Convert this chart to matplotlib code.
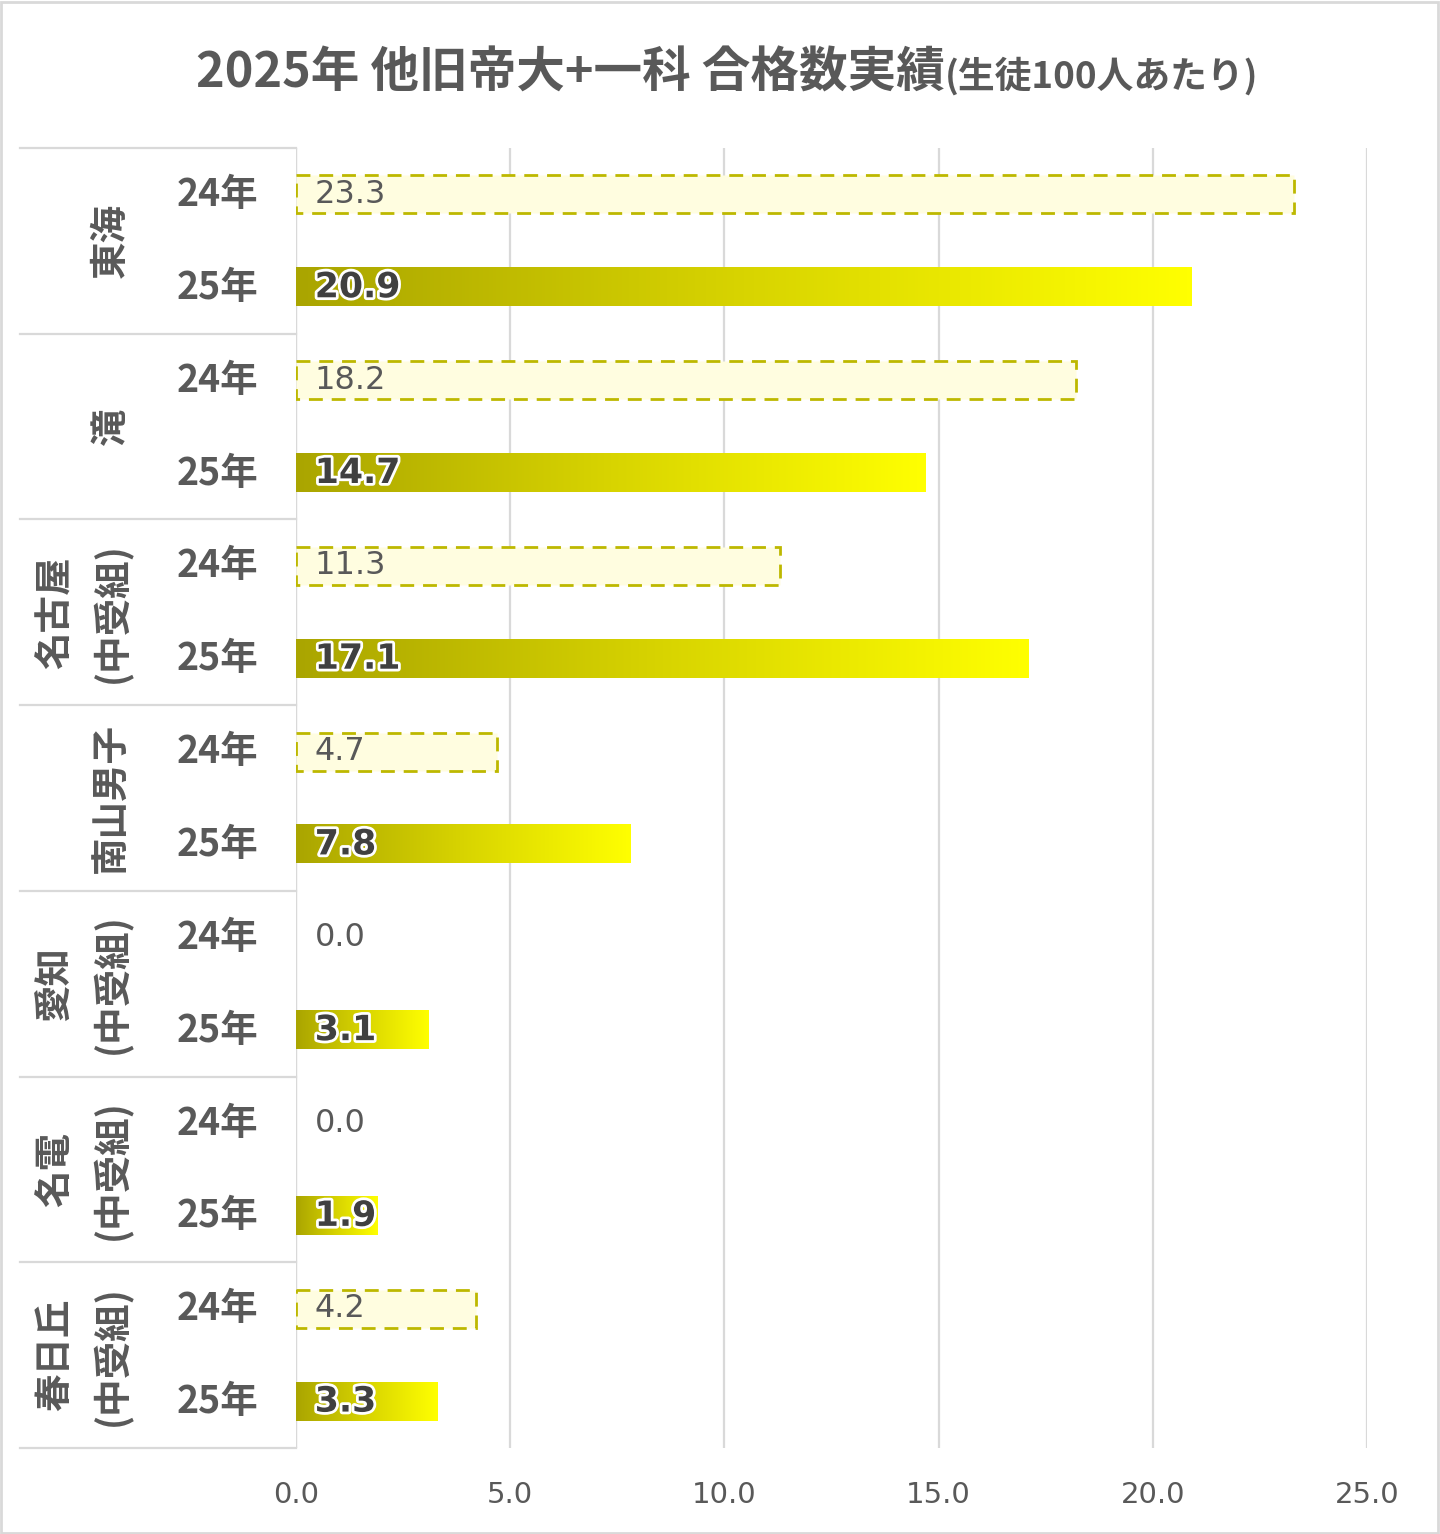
import matplotlib.pyplot as plt
import matplotlib.patheffects as pe
import numpy as np
from matplotlib.colors import LinearSegmentedColormap
from matplotlib.patches import Rectangle

plt.rcParams['font.family'] = ['Noto Sans CJK JP', 'DejaVu Sans']

# data
groups = [['東海'], ['滝'], ['名古屋', '(中受組)'], ['南山男子'],
          ['愛知', '(中受組)'], ['名電', '(中受組)'], ['春日丘', '(中受組)']]
years = ['24年', '25年']
v24 = [23.3, 18.2, 11.3, 4.7, 0.0, 0.0, 4.2]
v25 = [20.9, 14.7, 17.1, 7.8, 3.1, 1.9, 3.3]
xticks = [0, 5, 10, 15, 20, 25]

txt = '#595959'
grid_c = '#d9d9d9'
edge24 = '#bdb800'
fill24 = '#fffde0'
grad = LinearSegmentedColormap.from_list('g', ['#aaa500', '#d8d400', '#ffff00'])

W, H = 1440, 1534
fig = plt.figure(figsize=(W / 100, H / 100), dpi=100)
ax = fig.add_axes([296 / W, 1 - 1448 / H, (1367 - 296) / W, (1448 - 148) / H])

n = len(groups)
nrows = 2 * n
h = 0.41

for i in range(n):
    y24 = 2 * i
    y25 = 2 * i + 1
    # 24 bar
    if v24[i] > 0:
        ax.barh(y24, v24[i], height=h, color=fill24, edgecolor=edge24,
                linewidth=2, linestyle=(0, (5, 3.2)), zorder=3)
    ax.annotate(f'{v24[i]:.1f}', (0, y24), xytext=(13.5, 0), textcoords='offset points',
                ha='left', va='center', fontsize=23, color=txt, family='DejaVu Sans',
                zorder=5)
    # 25 bar gradient
    gimg = np.linspace(0, 1, 256).reshape(1, -1)
    ax.imshow(gimg, cmap=grad, extent=[0, v25[i], y25 + h / 2, y25 - h / 2],
              aspect='auto', interpolation='bilinear', zorder=3)
    ax.annotate(f'{v25[i]:.1f}', (0, y25), xytext=(13.5, 0), textcoords='offset points',
                ha='left', va='center', fontsize=25, color='#404040', fontweight='bold',
                family='DejaVu Sans', zorder=5,
                path_effects=[pe.withStroke(linewidth=4, foreground='white')])

ax.set_xlim(0, 25)
ax.set_ylim(nrows - 0.5, -0.5)
ax.set_aspect('auto')

ax.set_xticks(xticks)
ax.set_xticklabels([f'{t:.1f}' for t in xticks], family='DejaVu Sans')
ax.tick_params(axis='x', length=0, labelsize=21, labelcolor=txt, pad=24)
ax.set_yticks([])
for s in ax.spines.values():
    s.set_visible(False)
ax.grid(axis='x', color=grid_c, linewidth=1.6, zorder=0)
ax.set_axisbelow(True)
ax.axvline(0, color=grid_c, linewidth=1.6, zorder=1)

# category axis labels
ytr = ax.get_yaxis_transform()
xl = (20 - 296) / (1367 - 296)
for k in range(n + 1):
    ax.plot([xl, 0], [2 * k - 0.5, 2 * k - 0.5], transform=ytr, color=grid_c,
            linewidth=1.6, clip_on=False)
for r in range(nrows):
    ax.text((258 - 296) / 1071, r, years[r % 2], transform=ytr, ha='right', va='center',
            fontsize=27, fontweight='bold', color=txt)
for i, g in enumerate(groups):
    yc = 2 * i + 0.5
    if len(g) == 1:
        xs = [110]
    else:
        xs = [55, 112]
    for line, xp in zip(g, xs):
        ax.text((xp - 296) / 1071, yc, line, transform=ytr, rotation=90, ha='center',
                va='center', fontsize=27, fontweight='bold', color=txt)

# title
fig.text(945 / W, 1 - 88 / H, '2025年 他旧帝大+一科 合格数実績', ha='right', va='baseline',
         fontsize=35, fontweight='bold', color=txt)
fig.text(945 / W, 1 - 88 / H, '(生徒100人あたり)', ha='left', va='baseline',
         fontsize=26.5, fontweight='bold', color=txt)

fig.patches.append(Rectangle((1 / W, 1 / H), 1 - 3 / W, 1 - 3 / H, transform=fig.transFigure,
                             fill=False, edgecolor=grid_c, linewidth=2))

fig.savefig('out.png', dpi=100, facecolor='white')
